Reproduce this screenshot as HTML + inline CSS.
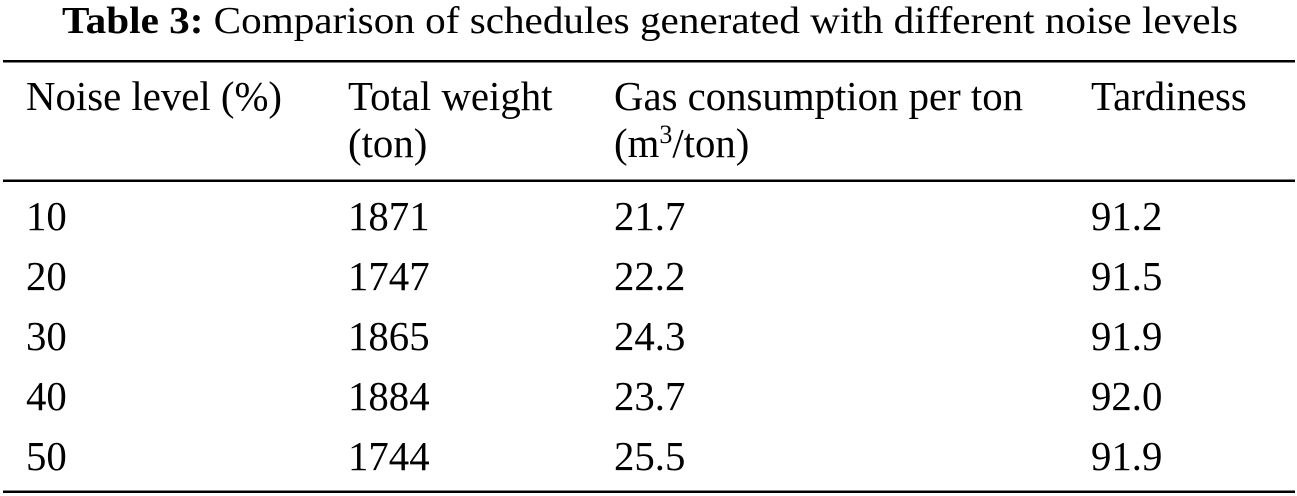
<!DOCTYPE html>
<html><head><style>
html,body{margin:0;padding:0;background:#fff;}
svg{display:block;font-family:"Liberation Serif",serif;}
text{font-size:40.8px;fill:#000;}
</style></head><body>
<svg width="1297" height="496" viewBox="0 0 1297 496">
<text x="62" y="33" textLength="1176" lengthAdjust="spacingAndGlyphs" style="font-size:38px"><tspan font-weight="bold">Table 3:</tspan>  Comparison of schedules generated with different noise levels</text>
<rect x="3" y="60" width="1292" height="2.5" fill="#000"/>
<rect x="3" y="179.5" width="1292" height="2.5" fill="#000"/>
<rect x="3" y="490.5" width="1292" height="2.5" fill="#000"/>
<text x="26" y="110">Noise level (%)</text>
<text x="348" y="110">Total weight</text>
<text x="348" y="157">(ton)</text>
<text x="614" y="110">Gas consumption per ton</text>
<text x="614" y="157">(m<tspan dy="-14" style="font-size:26px">3</tspan><tspan dy="14">/ton)</tspan></text>
<text x="1091" y="110">Tardiness</text>
<g>
<text x="26" y="230">10</text><text x="348" y="230">1871</text><text x="614" y="230">21.7</text><text x="1091" y="230">91.2</text>
<text x="26" y="290">20</text><text x="348" y="290">1747</text><text x="614" y="290">22.2</text><text x="1091" y="290">91.5</text>
<text x="26" y="350">30</text><text x="348" y="350">1865</text><text x="614" y="350">24.3</text><text x="1091" y="350">91.9</text>
<text x="26" y="410">40</text><text x="348" y="410">1884</text><text x="614" y="410">23.7</text><text x="1091" y="410">92.0</text>
<text x="26" y="470">50</text><text x="348" y="470">1744</text><text x="614" y="470">25.5</text><text x="1091" y="470">91.9</text>
</g>
</svg>
</body></html>
